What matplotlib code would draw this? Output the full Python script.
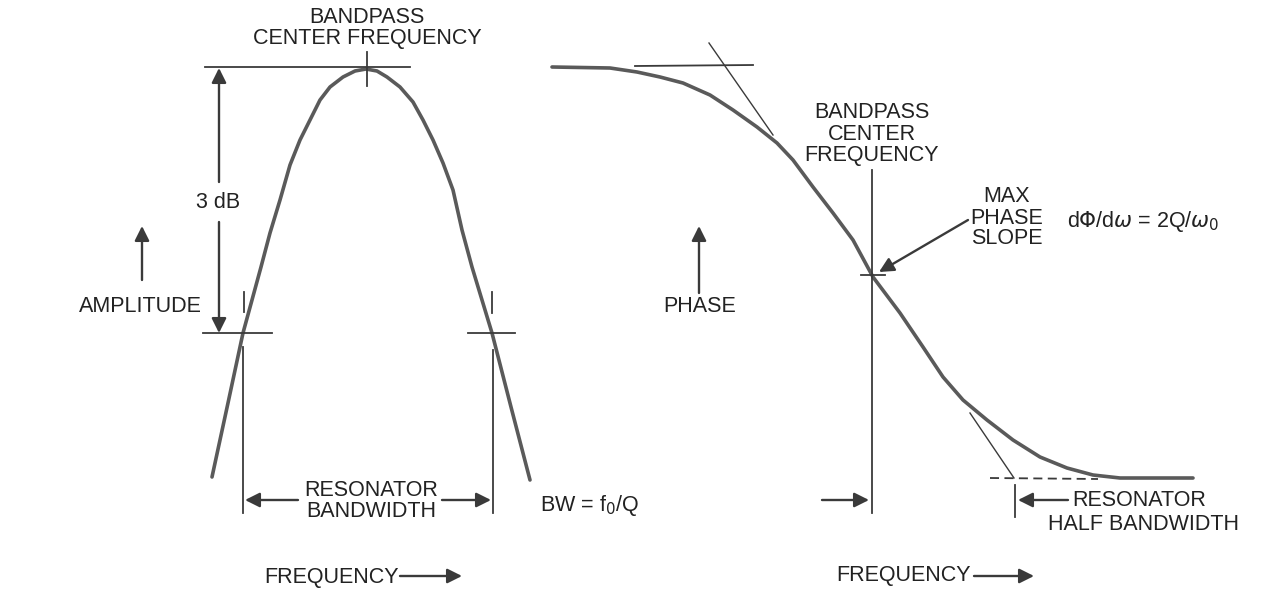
import matplotlib.pyplot as plt

# traced curves (picture coordinates, y grows downward)
amp_x = [212, 228, 243, 252, 261, 270, 280, 290, 300, 310, 320, 330, 343,
         355, 366, 377, 387, 400, 413, 423, 433, 443, 453, 462, 472, 482,
         492, 511, 530]
amp_y = [477, 403, 333, 300, 267, 233, 200, 165, 140, 120, 100, 87, 77,
         71, 69, 71, 77, 87, 102, 120, 140, 163, 190, 230, 267, 300,
         333, 407, 480]

phase_x = [552, 610, 637, 660, 683, 710, 733, 757, 777, 793, 813, 833,
           853, 873, 900, 923, 943, 963, 987, 1013, 1040, 1067, 1093,
           1120, 1193]
phase_y = [67, 68, 72, 77, 83, 95, 110, 127, 143, 160, 187, 213,
           240, 277, 313, 347, 377, 400, 420, 440, 457, 468, 475,
           478, 478]

CURVE = '#5a5a5a'
INK = '#3a3a3a'
FONT = 'Liberation Sans'
FS = 15.5


def arrow(ax, x0, y0, x1, y1, lw=1.7, head=11):
    ax.annotate('', xy=(x1, y1), xytext=(x0, y0),
                arrowprops=dict(arrowstyle='-|>', color=INK, lw=lw,
                                mutation_scale=head * 2, shrinkA=0, shrinkB=0))


def text(ax, x, y, s, ha='center', size=FS):
    ax.text(x, y, s, ha=ha, va='center', fontsize=size, family=FONT,
            color='#222222', linespacing=1.0)


fig = plt.figure(figsize=(12.61, 5.89), dpi=100)
ax = fig.add_axes([0, 0, 1, 1])
ax.set_xlim(0, 1261)
ax.set_ylim(589, 0)
ax.axis('off')

# ---- amplitude panel ----
ax.plot(amp_x, amp_y, color=CURVE, lw=2.6, solid_capstyle='round',
        solid_joinstyle='round')
ax.plot([205, 410], [67, 67], color=INK, lw=1.3)
ax.plot([367, 367], [52, 86], color=INK, lw=1.3)
ax.plot([203, 272], [333, 333], color=INK, lw=1.3)
ax.plot([468, 515], [333, 333], color=INK, lw=1.3)
ax.plot([244, 244], [292, 312], color=INK, lw=1.3)
ax.plot([492, 492], [292, 313], color=INK, lw=1.3)
ax.plot([243, 243], [347, 513], color=INK, lw=1.3)
ax.plot([493, 493], [350, 513], color=INK, lw=1.3)

# 3 dB double arrow
arrow(ax, 219, 182, 219, 68)
arrow(ax, 219, 222, 219, 333)
text(ax, 218, 202, '3 dB')

text(ax, 367, 28, 'BANDPASS\nCENTER FREQUENCY')
arrow(ax, 298, 500, 245, 500)
arrow(ax, 442, 500, 491, 500)
text(ax, 371, 501, 'RESONATOR\nBANDWIDTH')
text(ax, 540, 505, r'BW = f$_0$/Q', ha='left')

text(ax, 331, 577, 'FREQUENCY')
arrow(ax, 400, 576, 462, 576)
text(ax, 140, 306, 'AMPLITUDE')
arrow(ax, 142, 280, 142, 226)

# ---- phase panel ----
ax.plot(phase_x, phase_y, color=CURVE, lw=2.6, solid_capstyle='round',
        solid_joinstyle='round')
ax.plot([635, 753], [66, 65], color=INK, lw=1.3)
ax.plot([709, 773], [43, 135], color=INK, lw=1.0)
ax.plot([990, 1098], [478, 479], color=INK, lw=1.3, ls=(0, (5, 3)))
ax.plot([970, 1014], [413, 478], color=INK, lw=1.0)
ax.plot([872, 872], [170, 513], color=INK, lw=1.3)
ax.plot([861, 885], [275, 275], color=INK, lw=1.3)
arrow(ax, 968, 220, 879, 272)

text(ax, 872, 134, 'BANDPASS\nCENTER\nFREQUENCY')
text(ax, 1007, 218, 'MAX\nPHASE\nSLOPE')
text(ax, 1067, 222, r'd$\Phi$/d$\omega$ = 2Q/$\omega_0$', ha='left')

text(ax, 700, 307, 'PHASE')
arrow(ax, 699, 293, 699, 226)

arrow(ax, 822, 500, 869, 500)
ax.plot([1015, 1015], [485, 517], color=INK, lw=1.3)
arrow(ax, 1068, 500, 1018, 500)
text(ax, 1139, 501, 'RESONATOR')
text(ax, 1143, 524, 'HALF BANDWIDTH')

text(ax, 903, 576, 'FREQUENCY')
arrow(ax, 974, 576, 1034, 576)

fig.savefig('out.png', dpi=100, facecolor='white')
